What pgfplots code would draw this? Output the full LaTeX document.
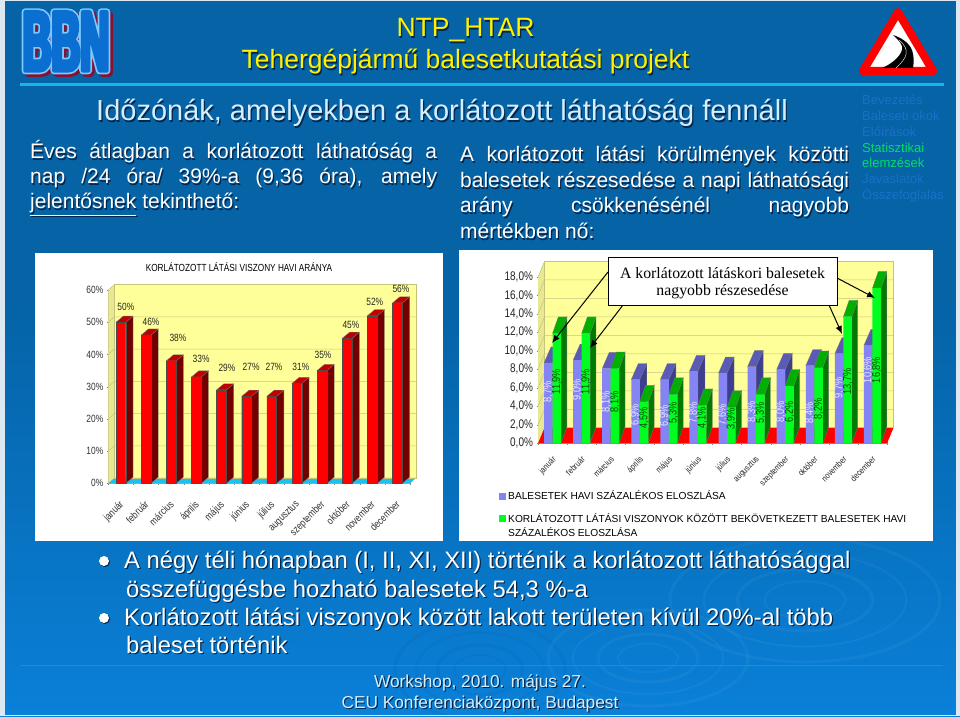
\documentclass[border=0pt]{standalone}
\usepackage{fontspec}
\usepackage{pgfplots}
\usepackage{pgfplotstable}
\pgfplotsset{compat=1.18}
\usetikzlibrary{arrows.meta}
\setmainfont{Liberation Sans}
\newfontfamily\serifface{Liberation Serif}
\newfontfamily\narrow[FakeStretch=0.8]{Liberation Sans}
\newfontfamily\logoA[FakeStretch=0.47,FakeBold=5]{Liberation Sans Bold}
\newfontfamily\logoB[FakeStretch=0.47,FakeBold=9]{Liberation Sans Bold}
\definecolor{slideTop}{HTML}{0563A6}
\definecolor{slideBot}{HTML}{0A80D8}
\definecolor{edgeC}{HTML}{DCE9F2}
\definecolor{wallC}{HTML}{FFFF99}
\definecolor{gridC}{HTML}{C4C47C}
\definecolor{floorC}{HTML}{1EC0EE}
\definecolor{sideC}{HTML}{E8E890}
\definecolor{redS}{HTML}{720000}
\definecolor{redT}{HTML}{C00000}
\definecolor{blueF}{HTML}{8484F4}
\definecolor{blueS}{HTML}{3E3E90}
\definecolor{blueT}{HTML}{5A5AB8}
\definecolor{greenF}{HTML}{00FF20}
\definecolor{greenS}{HTML}{007A00}
\definecolor{greenT}{HTML}{00B000}
\definecolor{shadowC}{HTML}{06264A}
\definecolor{headC}{HTML}{D4EEFF}
\definecolor{navC}{HTML}{1A70C8}
\definecolor{navG}{HTML}{00E060}
\definecolor{lineC}{HTML}{19B5E8}
\definecolor{logoF}{HTML}{0A6FD0}
\definecolor{logoO}{HTML}{7CC8FF}
\definecolor{logoS}{HTML}{8A1030}

\newcommand\fsz[1]{\fontsize{#1}{#1}\selectfont}
% shadowed text: x, baseline y, colour, size, text
\newcommand\st[5]{%
  \node[anchor=base west,inner sep=0pt,text=shadowC] at (#1+1.2,#2+1.2) {\fsz{#4}#5};
  \node[anchor=base west,inner sep=0pt,text=#3] at (#1,#2) {\fsz{#4}#5};}
\newcommand\stc[5]{%
  \node[anchor=base,inner sep=0pt,text=shadowC] at (#1+1.2,#2+1.2) {\fsz{#4}#5};
  \node[anchor=base,inner sep=0pt,text=#3] at (#1,#2) {\fsz{#4}#5};}

% side and top faces of each bar, read from the table
\newcommand\faces[7]{%
  \pgfplotsforeachungrouped \k in {0,...,11}{%
    \pgfplotstablegetelem{\k}{v}\of{#1}%
    \let\val\pgfplotsretval
    \pgfmathsetmacro\xl{\k+1+#2}%
    \pgfmathsetmacro\xr{\xl+#3}%
    \pgfmathsetmacro\xR{\xr+#4}%
    \pgfmathsetmacro\xL{\xl+#4}%
    \pgfmathsetmacro\ytop{\val+#5}%
    \edef\temp{%
      \noexpand\addplot[fill=#6,draw=black!55,line width=.3pt] coordinates {(\xr,0)(\xR,#5)(\xR,\ytop)(\xr,\val)} -- cycle;
      \noexpand\addplot[fill=#7,draw=black!55,line width=.3pt] coordinates {(\xl,\val)(\xL,\ytop)(\xR,\ytop)(\xr,\val)} -- cycle;
    }\temp
  }}

\pgfplotstableread{
i v l lx ly
1 50 50 1.20 54.7
2 46 46 2.20 50.1
3 38 38 3.27 45.1
4 33 33 4.19 38.6
5 29 29 5.22 35.8
6 27 27 6.18 36.1
7 27 27 7.09 36.1
8 31 31 8.16 36.1
9 35 35 9.04 39.8
10 45 45 10.15 49.1
11 52 52 11.10 56.3
12 56 56 12.14 60.3
}\leftdata
\pgfplotstableread{
i v l ly lx
1 8.7 8,7 5.55 0.85
2 9.0 9,0 5.77 1.85
3 8.1 8,1 4.50 2.85
4 6.9 6,9 3.06 3.85
5 6.9 6,9 2.95 4.85
6 7.8 7,8 3.31 5.85
7 7.6 7,6 3.06 6.85
8 8.3 8,3 3.39 7.85
9 8.0 8,0 3.42 8.85
10 8.4 8,4 3.28 9.85
11 9.7 9,7 5.98 10.85
12 10.6 10,6 7.93 11.85
}\bluedata
\pgfplotstableread{
i v l ly lx
1 11.9 11,9 6.67 1.15
2 11.9 11,9 6.67 2.15
3 8.1 8,1 4.50 3.15
4 4.5 4,5 2.74 4.15
5 5.3 5,3 3.28 5.15
6 4.1 4,1 2.74 6.15
7 3.9 3,9 2.63 7.15
8 5.3 5,3 3.28 8.15
9 6.2 6,2 3.39 9.15
10 8.2 8,2 3.71 10.15
11 13.7 13,7 6.67 11.15
12 16.8 16,8 7.93 12.15
}\greendata

\begin{document}
\begin{tikzpicture}[x=1pt,y=1pt]
\useasboundingbox (0,0) rectangle (960,716);
\begin{scope}[shift={(0,716)},x=1pt,y=-1pt]
\fill[slideTop] (0,0) rectangle (960,300);
\shade[top color=slideTop,bottom color=slideBot] (0,300) rectangle (960,716);
% ripples
\begin{scope}
\clip (4.5,1) rectangle (956,714);
\foreach \r/\w in {1/3,.75/2,.5/3,.3/2}{
  \draw[white,opacity=.045,line width=\w pt] (805,600) ellipse ({\r*135} and {\r*62});
  \draw[white,opacity=.04,line width=\w pt] (648,658) ellipse ({\r*100} and {\r*48});
  \draw[shadowC,opacity=.05,line width=\w pt] (480,670) ellipse ({\r*85} and {\r*50});
}
\end{scope}
\fill[edgeC] (0,0) rectangle (4.5,716);
\fill[edgeC] (956,0) rectangle (960,716);
\fill[edgeC] (0,0) rectangle (960,1);
\fill[edgeC] (0,714.5) rectangle (960,716);
% rules
\fill[lineC] (20,83) rectangle (944,86);
\draw[teal!70!cyan,line width=.7pt] (20,665) -- (943,665);
% logo
\begin{scope}[line join=round,line cap=round]
\node[anchor=base,inner sep=0pt,text=logoS] at (68.5,73) {\logoB\fsz{85}BBN};
\node[anchor=base,inner sep=0pt,text=logoO] at (66,70.6) {\logoB\fsz{85}BBN};
\node[anchor=base,inner sep=0pt,text=logoF] at (66,70.6) {\logoA\fsz{85}BBN};
\end{scope}
% sign
\draw[red,fill=white,line width=8pt,line join=round] (898,12.2) -- (933,71) -- (863,71) -- cycle;
\fill[black] (893,35) .. controls (899,37) and (908,41) .. (912,50) .. controls (914,56) and (914,62) .. (913,68) -- (882,68) .. controls (892,64) and (904,54) .. (902,46) .. controls (900,41) and (896,38) .. (893,35) -- cycle;
\draw[white!85!black,line width=.5pt] (899,40) .. controls (911,50) and (907,58) .. (896,68);
% headings
\stc{465.5}{37}{yellow}{26.5}{NTP\_HTAR}
\stc{465.5}{69}{yellow}{26.5}{Tehergépjármű balesetkutatási projekt}
\st{96}{121}{headC}{29}{Időzónák, amelyekben a korlátozott láthatóság fennáll}
% paragraphs
\st{30}{159}{white}{21}{\makebox[407pt][s]{Éves átlagban a korlátozott láthatóság a}}
\st{30}{184}{white}{21}{\makebox[407pt][s]{nap /24 óra/ 39\%-a (9,36 óra), amely}}
\st{30}{209}{white}{21}{\underline{jelentősnek} tekinthető:}
\st{460}{162}{white}{21}{\makebox[389pt][s]{A korlátozott látási körülmények közötti}}
\st{460}{188}{white}{21}{\makebox[389pt][s]{balesetek részesedése a napi láthatósági}}
\st{460}{213}{white}{21}{\makebox[389pt][s]{arány csökkenésénél nagyobb}}
\st{460}{239}{white}{21}{mértékben nő:}
% navigation
\foreach \t/\y/\c in {Bevezetés/105/navC,Baleseti okok/121/navC,Előírások/137/navC,Statisztikai/153/navG,elemzések/168/navG,Javaslatok/184/navC,Összefoglalás/200/navC}{
  \node[anchor=base west,inner sep=0pt,text=\c] at (862,\y) {\fsz{13}\t};}
% panels
\fill[white] (35,253) rectangle (443,541);
\fill[white] (459,250) rectangle (933,541);
% bullets
\foreach \y in {561,618}{
  \fill[shadowC] (105,\y+1) circle (5);
  \fill[white] (104,\y) circle (5);}
\st{124}{568}{white}{23.8}{A négy téli hónapban (I, II, XI, XII) történik a korlátozott láthatósággal}
\st{126}{597}{white}{23.8}{összefüggésbe hozható balesetek 54,3 \%-a}
\st{124}{625}{white}{23.8}{Korlátozott látási viszonyok között lakott területen kívül 20\%-al több}
\st{126}{653}{white}{23.8}{baleset történik}
% footer
\stc{480}{687}{headC}{17.3}{Workshop, 2010. május 27.}
\stc{480}{708}{headC}{17.3}{CEU Konferenciaközpont, Budapest}
% chart titles
\node[text=black] at (239,267) {\narrow\fsz{10.3}KORLÁTOZOTT LÁTÁSI VISZONY HAVI ARÁNYA};
\end{scope}

% LEFT CHART
\begin{axis}[
  at={(108.3pt,232.7pt)},anchor=south west,
  scale only axis,width=301.7pt,height=193.3pt,
  xmin=0.5,xmax=12.5,ymin=0,ymax=60,clip=false,
  axis x line=bottom,axis y line=left,
  axis line style={-,draw=gray!70!yellow},
  ytick={0,10,20,30,40,50,60},
  yticklabels={0\%,10\%,20\%,30\%,40\%,50\%,60\%},
  xtick={1,...,12},
  xticklabels={január,február,március,április,május,június,július,augusztus,szeptember,október,november,december},
  minor xtick={0.5,1.5,...,12.5},
  major x tick style={draw=none},
  tick style={draw=gray},
  major tick length=3pt,minor tick length=3pt,
  tick label style={font=\narrow\fsz{10.5},text=black!80},
  xticklabel style={rotate=45,anchor=north east,inner sep=1pt,xshift=-11pt,yshift=-8pt,font=\narrow\fsz{10.5}},
]
\fill[wallC] (axis cs:0.739,1.65) rectangle (axis cs:12.739,61.65);
\fill[sideC] (axis cs:0.5,0) -- (axis cs:0.739,1.65) -- (axis cs:0.739,61.65) -- (axis cs:0.5,60) -- cycle;
\fill[floorC] (axis cs:0.5,0) -- (axis cs:12.5,0) -- (axis cs:12.739,1.65) -- (axis cs:0.739,1.65) -- cycle;
\pgfplotsinvokeforeach{10,20,30,40,50,60}{
  \draw[gridC,line width=.5pt] (axis cs:0.5,#1) -- (axis cs:0.739,#1+1.65) -- (axis cs:12.739,#1+1.65);}
\draw[gridC,line width=.6pt] (axis cs:0.739,1.65) rectangle (axis cs:12.739,61.65);
\faces{\leftdata}{-0.193}{0.386}{0.29}{1.9}{redS}{redT}
\addplot[ybar,bar width=9.7pt,fill=red,draw=black!70,line width=.3pt] table[x=i,y=v]{\leftdata};
\addplot[draw=none,point meta=explicit symbolic,nodes near coords={\pgfplotspointmeta\%},
  every node near coord/.style={anchor=center,inner sep=0pt,font=\narrow\fsz{10.5},text=black!85}]
  table[x=lx,y=ly,meta=l]{\leftdata};
\end{axis}

% RIGHT CHART
\begin{axis}[
  at={(538pt,272.7pt)},anchor=south west,
  scale only axis,width=349pt,height=166.3pt,
  xmin=0.5,xmax=12.5,ymin=0,ymax=18,clip=false,
  axis x line=bottom,axis y line=left,
  axis line style={-,draw=gray!70!yellow},
  ytick={0,2,4,6,8,10,12,14,16,18},
  yticklabels={{0,0\%},{2,0\%},{4,0\%},{6,0\%},{8,0\%},{10,0\%},{12,0\%},{14,0\%},{16,0\%},{18,0\%}},
  xtick={1,...,12},
  xticklabels={január,február,március,április,május,június,július,augusztus,szeptember,október,november,december},
  minor xtick={0.5,1.5,...,12.5},
  major x tick style={draw=none},
  tick style={draw=gray},
  major tick length=3pt,minor tick length=3pt,
  tick label style={font=\narrow\fsz{12.5},text=black!85},
  xticklabel style={rotate=45,anchor=north east,inner sep=1pt,xshift=-7pt,yshift=-6pt,font=\narrow\fsz{8.8}},
]
\fill[wallC] (axis cs:0.723,1.68) rectangle (axis cs:12.723,19.68);
\fill[sideC] (axis cs:0.5,0) -- (axis cs:0.723,1.68) -- (axis cs:0.723,19.68) -- (axis cs:0.5,18) -- cycle;
\fill[red] (axis cs:0.5,0) -- (axis cs:12.5,0) -- (axis cs:12.723,1.68) -- (axis cs:0.723,1.68) -- cycle;
\pgfplotsinvokeforeach{2,4,6,8,10,12,14,16,18}{
  \draw[gridC,line width=.5pt] (axis cs:0.5,#1) -- (axis cs:0.723,#1+1.68) -- (axis cs:12.723,#1+1.68);}
\draw[gridC,line width=.6pt] (axis cs:0.723,1.68) rectangle (axis cs:12.723,19.68);
\faces{\bluedata}{-0.292}{0.292}{0.24}{1.73}{blueS}{blueT}
\addplot[ybar,bar width=8.5pt,bar shift=-4.25pt,fill=blueF,draw=none] table[x=i,y=v]{\bluedata};
\faces{\greendata}{0}{0.292}{0.2}{1.78}{greenS}{greenT}
\addplot[ybar,bar width=8.5pt,bar shift=4.25pt,fill=greenF,draw=none] table[x=i,y=v]{\greendata};
\addplot[draw=none,point meta=explicit symbolic,nodes near coords={\pgfplotspointmeta\%},
  every node near coord/.style={anchor=center,rotate=90,inner sep=0pt,font=\narrow\fsz{11.5},text=blue!8!white}]
  table[x=lx,y=ly,meta=l]{\bluedata};
\addplot[draw=none,point meta=explicit symbolic,nodes near coords={\pgfplotspointmeta\%},
  every node near coord/.style={anchor=center,rotate=90,inner sep=0pt,font=\narrow\fsz{11.5},text=green!30!black}]
  table[x=lx,y=ly,meta=l]{\greendata};
\end{axis}

% callout and legend
\begin{scope}[shift={(0,716)},x=1pt,y=-1pt]
\draw[black,line width=1pt,-{Latex[length=8pt,width=6.5pt]}] (608,272) -- (552,343);
\draw[black,line width=1pt,-{Latex[length=8pt,width=6.5pt]}] (623,305) -- (590,348);
\draw[black,line width=1pt,-{Latex[length=8pt,width=6.5pt]}] (837,278) -- (875,298);
\draw[black,line width=1pt,-{Latex[length=8pt,width=6.5pt]}] (829,305) -- (842,334);
\draw[black,fill=white,line width=.7pt] (608,257) rectangle (837,305);
\node[text=black] at (722.5,273) {\serifface\fsz{15.8}A korlátozott látáskori balesetek};
\node[text=black] at (722.5,292) {\serifface\fsz{15.8}nagyobb részesedése};
\fill[blueF] (498.5,492.5) rectangle (505.5,499.5);
\fill[greenF] (498.5,514.5) rectangle (505.5,521.5);
\node[anchor=base west,inner sep=0pt,text=black] at (508,499) {\fsz{10.2}BALESETEK HAVI SZÁZALÉKOS ELOSZLÁSA};
\node[anchor=base west,inner sep=0pt,text=black] at (508,522) {\fsz{10.2}KORLÁTOZOTT LÁTÁSI VISZONYOK KÖZÖTT BEKÖVETKEZETT BALESETEK HAVI};
\node[anchor=base west,inner sep=0pt,text=black] at (508,536) {\fsz{10.2}SZÁZALÉKOS ELOSZLÁSA};
\end{scope}
\end{tikzpicture}
\end{document}
